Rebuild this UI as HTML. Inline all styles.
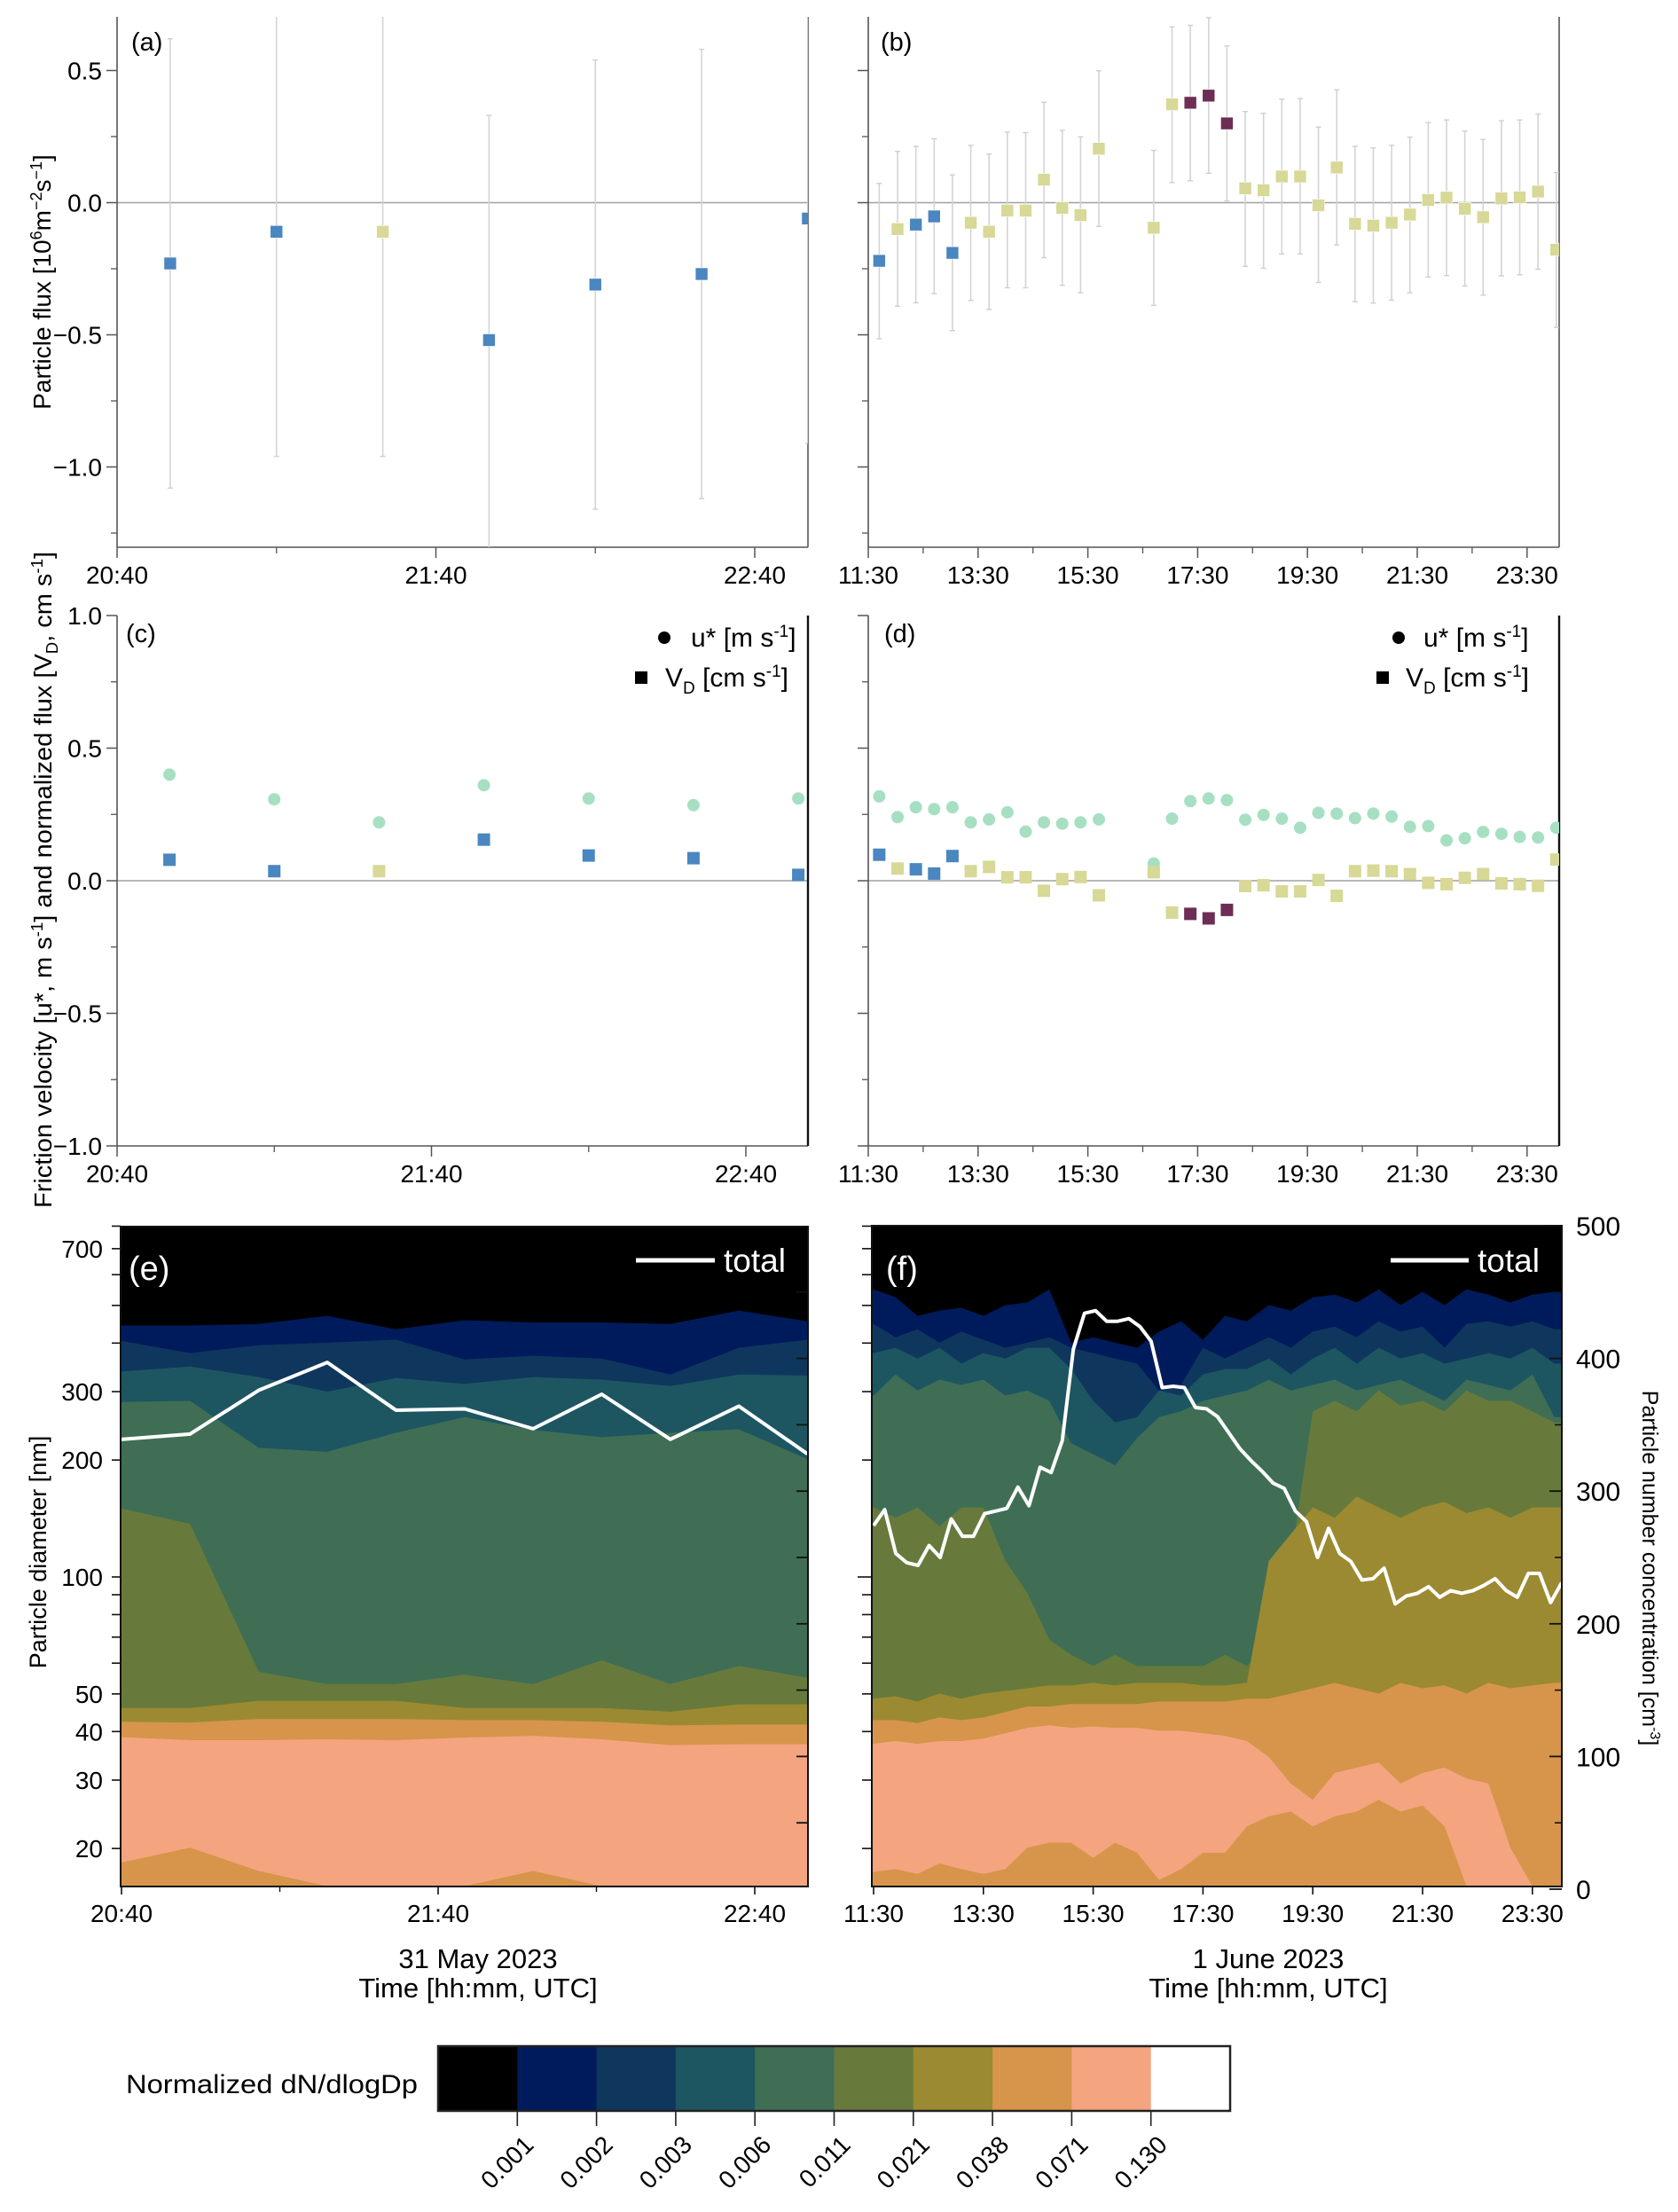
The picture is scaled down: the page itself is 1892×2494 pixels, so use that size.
<!DOCTYPE html>
<html><head><meta charset="utf-8"><title>Particle flux figure</title>
<style>
html,body{margin:0;padding:0;background:#fff;}
svg{display:block;font-family:"Liberation Sans",Arial,sans-serif;}
</style></head>
<body>
<svg id="fig" xmlns="http://www.w3.org/2000/svg" width="1892" height="2494" viewBox="0 0 1892 2494">
<rect x="0" y="0" width="1892" height="2494" fill="#fff"/>
<defs>
<clipPath id="clipA"><rect x="132" y="19" width="779" height="598"/></clipPath>
<clipPath id="clipB"><rect x="979" y="19" width="779" height="598"/></clipPath>
<clipPath id="clipC"><rect x="132" y="694" width="779" height="598"/></clipPath>
<clipPath id="clipD"><rect x="979" y="694" width="779" height="598"/></clipPath>
<clipPath id="clipE"><rect x="136" y="1383" width="775" height="744"/></clipPath>
<clipPath id="clipF"><rect x="983" y="1382" width="778" height="745"/></clipPath>
</defs>
<g id="layer-a"></g>
<g id="layer-b"></g>
<g id="layer-c"></g>
<g id="layer-d"></g>
<g id="layer-e"></g>
<g id="layer-f"></g>
<g id="layer-cb"></g>

<text x="148" y="57" font-size="29">(a)</text>
<text x="993" y="57" font-size="29">(b)</text>
<text x="142" y="724" font-size="29">(c)</text>
<text x="997" y="724" font-size="29">(d)</text>

<text transform="translate(57,318) rotate(-90)" text-anchor="middle" font-size="28">Particle flux [10<tspan dy="-10" font-size="18">6</tspan><tspan dy="10">m</tspan><tspan dy="-10" font-size="18">−2</tspan><tspan dy="10">s</tspan><tspan dy="-10" font-size="18">−1</tspan><tspan dy="10">]</tspan></text>

<text transform="translate(58,992) rotate(-90)" text-anchor="middle" font-size="28" textLength="740" lengthAdjust="spacingAndGlyphs">Friction velocity [u*, m s<tspan dy="-10" font-size="18">-1</tspan><tspan dy="10">] and normalized flux [V</tspan><tspan dy="7" font-size="18">D</tspan><tspan dy="-7">, cm s</tspan><tspan dy="-10" font-size="18">-1</tspan><tspan dy="10">]</tspan></text>

<g>
<circle cx="749" cy="719" r="7" fill="#000"/>
<text x="779" y="729" font-size="30">u* [m s<tspan dy="-11" font-size="19">-1</tspan><tspan dy="11">]</tspan></text>
<rect x="716" y="757" width="14" height="14" fill="#000"/>
<text x="750" y="774" font-size="30">V<tspan dy="8" font-size="19">D</tspan><tspan dy="-8"> [cm s</tspan><tspan dy="-11" font-size="19">-1</tspan><tspan dy="11">]</tspan></text>
</g>
<g>
<circle cx="1577" cy="719" r="7" fill="#000"/>
<text x="1605" y="729" font-size="30">u* [m s<tspan dy="-11" font-size="19">-1</tspan><tspan dy="11">]</tspan></text>
<rect x="1552" y="757" width="14" height="14" fill="#000"/>
<text x="1585" y="774" font-size="30">V<tspan dy="8" font-size="19">D</tspan><tspan dy="-8"> [cm s</tspan><tspan dy="-11" font-size="19">-1</tspan><tspan dy="11">]</tspan></text>
</g>

<text transform="translate(52,1750) rotate(-90)" text-anchor="middle" font-size="27">Particle diameter [nm]</text>
<text transform="translate(1852,1768) rotate(90)" text-anchor="middle" font-size="25">Particle number concentration [cm<tspan dy="-9" font-size="16">-3</tspan><tspan dy="9">]</tspan></text>

<text x="539" y="2219" text-anchor="middle" font-size="31">31 May 2023</text>
<text x="539" y="2252" text-anchor="middle" font-size="31">Time [hh:mm, UTC]</text>
<text x="1430" y="2219" text-anchor="middle" font-size="31">1 June 2023</text>
<text x="1430" y="2252" text-anchor="middle" font-size="31">Time [hh:mm, UTC]</text>

<text x="142" y="2360" font-size="30" textLength="329" lengthAdjust="spacingAndGlyphs">Normalized dN/dlogDp</text>
</svg>

<script>
const aTimes = [10, 30, 50, 70, 90, 110, 130];
const aFlux  = [-0.23, -0.11, -0.11, -0.52, -0.31, -0.27, -0.06];
const aHi    = [0.62, 0.90, 0.90, 0.33, 0.54, 0.58, 0.85];
const aLo    = [-1.08, -0.96, -0.96, -1.37, -1.16, -1.12, -0.91];
const aCls   = ['b','b','y','b','b','b','b'];
const cUstar = [0.40, 0.307, 0.22, 0.36, 0.31, 0.285, 0.31];
const cVd    = [0.079, 0.036, 0.036, 0.155, 0.095, 0.085, 0.022];
const aTickLabels = ['20:40','21:40','22:40'];
const aTickMins = [0, 60, 120];
const fluxTicks = [0.5, 0.0, -0.5, -1.0];
const fluxTickLabels = ['0.5','0.0','−0.5','−1.0'];
const velTicks = [1.0, 0.5, 0.0, -0.5, -1.0];
const velTickLabels = ['1.0','0.5','0.0','−0.5','−1.0'];

const bTimes = [12,32,52,72,92,112,132,152,172,192,212,232,252,
  312,332,352,372,392,412,432,452,472,492,512,532,552,572,592,612,632,652,672,692,712,732,752];
const bFlux = [-0.22,-0.10,-0.083,-0.052,-0.19,-0.076,-0.11,-0.03,-0.03,0.087,-0.02,-0.047,0.204,
  -0.095,0.372,0.378,0.405,0.30,0.054,0.047,0.099,0.099,-0.01,0.133,-0.08,-0.087,-0.076,-0.045,0.01,0.019,-0.023,-0.055,0.016,0.02,0.042,-0.178];
const bHi = [0.073,0.194,0.213,0.242,0.105,0.217,0.184,0.267,0.265,0.380,0.274,0.249,0.499,
  0.198,0.665,0.671,0.700,0.593,0.345,0.338,0.392,0.394,0.286,0.427,0.213,0.207,0.217,0.248,0.303,0.313,0.271,0.239,0.310,0.313,0.335,0.114];
const bLo = [-0.515,-0.392,-0.379,-0.344,-0.484,-0.370,-0.404,-0.322,-0.322,-0.208,-0.313,-0.341,-0.090,
  -0.389,0.076,0.083,0.111,0.007,-0.241,-0.248,-0.194,-0.194,-0.302,-0.160,-0.375,-0.380,-0.369,-0.341,-0.281,-0.276,-0.315,-0.350,-0.277,-0.273,-0.252,-0.472];
const bCls = ['b','y','b','b','b','y','y','y','y','y','y','y','y','y','y','p','p','p',
  'y','y','y','y','y','y','y','y','y','y','y','y','y','y','y','y','y','y'];
const dUstar = [0.318,0.24,0.277,0.27,0.277,0.22,0.231,0.258,0.185,0.22,0.215,0.22,0.231,
  0.065,0.234,0.30,0.31,0.304,0.23,0.248,0.234,0.20,0.256,0.253,0.236,0.253,0.242,0.203,0.206,0.152,0.16,0.184,0.177,0.165,0.163,0.2];
const dVd = [0.098,0.046,0.043,0.027,0.093,0.036,0.052,0.013,0.013,-0.038,0.006,0.014,-0.055,
  0.032,-0.12,-0.125,-0.142,-0.11,-0.02,-0.017,-0.04,-0.04,0.003,-0.057,0.036,0.038,0.036,0.025,-0.008,-0.013,0.011,0.025,-0.01,-0.013,-0.019,0.08];
const bTickLabels = ['11:30','13:30','15:30','17:30','19:30','21:30','23:30'];
const bTickMins = [0,120,240,360,480,600,720];

const eTimes = [0,13,26,39,52,65,78,91,104,117,130];
const eTotal = [339,343,376,397,361,362,347,373,339,364,328];
const eB001 = [444,444,448,470,434,458,452,452,448,485,455];
const eB002 = [405,377,395,401,408,363,371,365,332,389,408];
const eB003 = [338,348,327,300,325,314,327,322,310,332,330];
const eB006 = [282,284,215,210,235,258,239,229,235,240,201];
const eB011 = [150,137,57,53,53,56,53,61,53,59,55];
const eB021 = [46,46,48,48,48,46,46,46,45,47,47];
const eB038 = [42.4,42.2,43.1,43.1,43.1,42.8,42.8,42.4,41.5,41.7,41.7];
const eB071 = [38.7,38,38,38.2,38,38.6,39,38.2,36.9,37.1,37.1];
const eBLow = [18.4,20.1,17.5,16,16,16,17.5,16,16,16,16];
const eDiamTickLabels = ['700','300','200','100','50','40','30','20'];
const eDiamTicks = [700,300,200,100,50,40,30,20];

const fTimes = [0,24,48,72,96,120,144,168,192,216,240,264,288,312,336,360,384,408,432,456,480,504,528,552,576,600,624,648,672,696,720,744];
const fB001 = [550,525,470,485,493,470,501,509,550,401,414,401,389,428,455,408,470,455,501,485,525,533,509,550,501,542,501,550,533,509,533,542];
const fB002 = [448,414,434,401,428,408,389,401,414,389,377,365,354,302,312,389,365,389,414,389,428,441,414,455,428,441,389,448,455,441,455,434];
const fB003 = [377,389,365,389,354,377,365,389,389,343,284,250,258,302,293,332,343,343,365,332,365,389,354,389,365,377,354,365,377,365,389,354];
const fB006 = [293,332,302,322,312,322,293,302,284,221,207,194,228,258,267,284,293,302,322,302,312,322,302,312,322,302,284,322,312,302,332,258];
const fB011 = [151,142,151,135,151,151,110,91,69,63,59,63,59,59,59,59,63,59,67,110,267,284,267,302,276,284,267,302,284,284,267,250];
const fB021 = [48.6,49.3,47.8,50.1,48.6,50.1,50.9,51.7,52.6,52.6,53.4,52.6,53.4,53.4,53.4,52.6,52.6,53.4,110,129,151,142,161,151,142,151,156,146,151,142,151,151];
const fB038 = [42.8,42.8,42.1,43.5,42.8,43.5,44.9,46.4,46.4,47.1,47.1,47.1,47.1,47.8,47.8,47.8,47.8,48.6,48.6,50.1,51.7,53.4,51.7,50.1,53.4,51.7,52.6,50.1,53.4,51.7,52.6,53.4];
const fB071 = [37.2,37.8,37.2,37.8,37.8,38.4,39.6,40.9,41.5,40.9,41.2,40.9,40.9,40.2,40.2,39.6,39.0,37.8,34.4,29.4,26.7,31.3,32.3,33.3,29.4,31.3,32.3,30.3,29.4,20.1,16,16];
const fBLow = [17.4,17.7,17.2,18.3,17.7,17.2,17.7,20.1,20.7,20.7,18.9,20.7,19.5,16.6,17.7,19.5,19.5,22.8,24.2,24.9,22.8,24.2,24.9,26.7,24.9,25.8,22.8,16,16,16,16,16];
const fLineStep = 12.13;
const fTotal = [274,286,253,246,244,259,250,279,266,266,283,285,287,303,289,318,314,338,407,434,
  436,428,428,430,424,413,378,379,378,363,362,356,344,332,323,315,306,302,285,277,
  250,272,253,247,233,234,242,215,221,223,228,220,225,223,225,229,234,225,220,238,238,216,231];
const concTicks = [0,100,200,300,400,500];
const concTickLabels = ['0','100','200','300','400','500'];

const cbLevels = ['0.001','0.002','0.003','0.006','0.011','0.021','0.038','0.071','0.130'];

const COL = {b:'#4a86bf', y:'#d8d897', p:'#6e2d55'};
const MINT = '#a7dfc3';
const bandCols = ['#001b5b','#0f375d','#1d5661','#3f6e55','#677a3c','#9b8a31','#d6954a','#f5a480','#d6954a'];
const cbCols = ['#000000','#001b5b','#0f375d','#1d5661','#3f6e55','#677a3c','#9b8a31','#d6954a','#f5a480','#ffffff'];

const xA = m => 132 + m * 359.5 / 60;
const xC = m => 132 + m * 354.5 / 60;
const xB = m => 979 + m * 61.9 / 60;
const yA = v => 228.5 - v * 298;
const yC = v => 993 - v * 299;
const xE = m => 137 + m * 357 / 60;
const xF = m => 985 + m * 61.9 / 60;
const yLog = d => 1778 - Math.log10(d / 100) * 438;
const yConc = c => 2130 - c * 1.496;

const NS = 'http://www.w3.org/2000/svg';
function mk(tag, parent) { const e = document.createElementNS(NS, tag); parent.appendChild(e); return e; }
function at(e, o) { for (const k in o) e.setAttribute(k, o[k]); return e; }
function line(parent, x1, y1, x2, y2, stroke, w) {
  return at(mk('line', parent), {x1:x1, y1:y1, x2:x2, y2:y2, stroke:stroke, 'stroke-width':w});
}
function label(parent, x, y, str, size, anchor) {
  const t = at(mk('text', parent), {x:x, y:y, 'font-size':size, 'text-anchor':anchor});
  t.textContent = str;
  return t;
}

function scatterAxes(g, left, right, top, bottom, yScale, yt, ytl, minorY, xScale, xtMins, xtl, minorX, rightCol, rightW) {
  const ax = line(g, left, top, left, bottom, '#555', 1.6);
  
  
  const bx = line(g, left, bottom, right, bottom, '#555', 1.6);
  
  
  const rx = line(g, right, top, right, bottom, rightCol, rightW);
  
  
  yt.forEach((v, i) => {
    const tk = line(g, left - 12, yScale(v), left, yScale(v), '#555', 1.5);
    
    
    const tl = label(g, left - 17, yScale(v) + 10, ytl[i], 28, 'end');
    
    
  });
  minorY.forEach(v => {
    const tk = line(g, left - 7, yScale(v), left, yScale(v), '#555', 1.3);
    
    
  });
  xtMins.forEach((m, i) => {
    const tk = line(g, xScale(m), bottom, xScale(m), bottom + 12, '#555', 1.5);
    
    
    const tl = label(g, xScale(m), bottom + 41, xtl[i], 28, 'middle');
    
    
  });
  minorX.forEach(m => {
    const tk = line(g, xScale(m), bottom, xScale(m), bottom + 7, '#555', 1.3);
    
    
  });
}

function zeroLine(g, left, right, y) {
  const z = line(g, left, y, right, y, '#a0a0a0', 1.6);
  
  
}

function fluxMarks(g, clip, times, vals, his, los, cls, xS, yS) {
  const cg = mk('g', g);
  cg.setAttribute('clip-path', 'url(#' + clip + ')');
  
  
  times.forEach((t, i) => {
    const x = xS(t);
    const eb = line(cg, x, yS(his[i]), x, yS(los[i]), '#d4d4d4', 1.6);
    
    
    const c1 = line(cg, x - 3, yS(his[i]), x + 3, yS(his[i]), '#cfcfcf', 1.4);
    
    
    const c2 = line(cg, x - 3, yS(los[i]), x + 3, yS(los[i]), '#cfcfcf', 1.4);
    
    
  });
  times.forEach((t, i) => {
    const s = at(mk('rect', cg), {x: xS(t) - 7, y: yS(vals[i]) - 7, width: 14, height: 14, fill: COL[cls[i]], stroke: '#fff', 'stroke-width': 0.6});
    
    
  });
}

function velMarks(g, clip, times, ustar, vd, cls, xS, yS) {
  const cg = mk('g', g);
  cg.setAttribute('clip-path', 'url(#' + clip + ')');
  
  
  times.forEach((t, i) => {
    const c = at(mk('ellipse', cg), {cx: xS(t), cy: yS(ustar[i]), rx: 7, ry: 7, fill: MINT});
    
    
  });
  times.forEach((t, i) => {
    const s = at(mk('rect', cg), {x: xS(t) - 7, y: yS(vd[i]) - 7, width: 14, height: 14, fill: COL[cls[i]]});
    
    
  });
}

const gA = document.getElementById('layer-a');
zeroLine(gA, 132, 911, yA(0));
scatterAxes(gA, 132, 911, 19, 617, yA, fluxTicks, fluxTickLabels, [0.25,-0.25,-0.75,-1.25], xA, aTickMins, aTickLabels, [30,90], '#555', 1.6);
fluxMarks(gA, 'clipA', aTimes, aFlux, aHi, aLo, aCls, xA, yA);

const gB = document.getElementById('layer-b');
zeroLine(gB, 979, 1758, yA(0));
scatterAxes(gB, 979, 1758, 19, 617, yA, fluxTicks, ['','','',''], [0.25,-0.25,-0.75,-1.25], xB, bTickMins, bTickLabels, [60,180,300,420,540,660], '#555', 1.6);
fluxMarks(gB, 'clipB', bTimes, bFlux, bHi, bLo, bCls, xB, yA);

const gC = document.getElementById('layer-c');
zeroLine(gC, 132, 911, yC(0));
scatterAxes(gC, 132, 911, 694, 1292, yC, velTicks, velTickLabels, [0.75,0.25,-0.25,-0.75], xC, aTickMins, aTickLabels, [30,90], '#111', 2.4);
velMarks(gC, 'clipC', aTimes, cUstar, cVd, aCls, xC, yC);

const gD = document.getElementById('layer-d');
zeroLine(gD, 979, 1758, yC(0));
scatterAxes(gD, 979, 1758, 694, 1292, yC, velTicks, ['','','','',''], [0.75,0.25,-0.25,-0.75], xB, bTickMins, bTickLabels, [60,180,300,420,540,660], '#111', 2.4);
velMarks(gD, 'clipD', bTimes, dUstar, dVd, bCls, xB, yC);

function bandPath(times, bound, xS, left, right, bottom) {
  let d = 'M' + left + ',' + yLog(bound[0]);
  times.forEach((t, i) => { d += ' L' + xS(t) + ',' + yLog(bound[i]); });
  d += ' L' + right + ',' + yLog(bound[bound.length - 1]) + ' L' + right + ',' + bottom + ' L' + left + ',' + bottom + ' Z';
  return d;
}

function contourPanel(g, clip, left, right, top, bottom, times, bounds, xS) {
  const cg = mk('g', g);
  cg.setAttribute('clip-path', 'url(#' + clip + ')');
  
  
  const bg = at(mk('rect', cg), {x: left, y: top, width: right - left, height: bottom - top, fill: '#000'});
  
  
  bounds.forEach((b, k) => {
    const p = at(mk('path', cg), {d: bandPath(times, b, xS, left, right, bottom), fill: bandCols[k]});
    
    
  });
  return cg;
}

function totalLine(cg, times, vals, xS) {
  const pts = times.map((t, i) => xS(t) + ',' + yConc(vals[i])).join(' ');
  const pl = at(mk('polyline', cg), {points: pts, fill: 'none', stroke: '#fff', 'stroke-width': 4, 'stroke-linejoin': 'round'});
  
  
}

const logTicks = [20,30,40,50,60,70,80,90,100,200,300,400,500,600,700,800];

const gE = document.getElementById('layer-e');
const cgE = contourPanel(gE, 'clipE', 136, 911, 1383, 2127, eTimes,
  [eB001, eB002, eB003, eB006, eB011, eB021, eB038, eB071, eBLow], xE);
totalLine(cgE, eTimes, eTotal, xE);
{
  const fr = at(mk('rect', gE), {x: 136, y: 1383, width: 775, height: 744, fill: 'none', stroke: '#111', 'stroke-width': 2});
  
  
  logTicks.forEach(v => {
    const tk = line(gE, 136 - 10, yLog(v), 136, yLog(v), '#111', 1.6);
    
    
  });
  eDiamTicks.forEach((v, i) => {
    const tl = label(gE, 116, yLog(v) + 10, eDiamTickLabels[i], 28, 'end');
    
    
  });
  [50,100,150,200,250,300,350,400,450].forEach(c => {
    const tk = line(gE, 911 - 13, yConc(c), 911, yConc(c), '#111', 1.8);
    
    
  });
  aTickMins.forEach((m, i) => {
    const tk = line(gE, xE(m), 2127, xE(m), 2136, '#111', 1.6);
    
    
    const tl = label(gE, xE(m), 2167, aTickLabels[i], 28, 'middle');
    
    
  });
  [30, 90].forEach(m => {
    const tk = line(gE, xE(m), 2127, xE(m), 2133, '#111', 1.4);
    
    
  });
  const lg = line(gE, 717, 1421, 806, 1421, '#fff', 5);
  
  
  const lt = label(gE, 816, 1434, 'total', 37, 'start');
  lt.setAttribute('fill', '#fff');
  
  
  const pl = label(gE, 145, 1443, '(e)', 38, 'start');
  pl.setAttribute('fill', '#fff');
  
  
}

const gF = document.getElementById('layer-f');
const cgF = contourPanel(gF, 'clipF', 983, 1761, 1382, 2127, fTimes,
  [fB001, fB002, fB003, fB006, fB011, fB021, fB038, fB071, fBLow], xF);
totalLine(cgF, fTotal.map((v, i) => i * fLineStep), fTotal, xF);
{
  const fr = at(mk('rect', gF), {x: 983, y: 1382, width: 778, height: 745, fill: 'none', stroke: '#111', 'stroke-width': 2});
  
  
  logTicks.forEach(v => {
    const tk = line(gF, 983 - (v === 100 ? 16 : 11), yLog(v), 983, yLog(v), '#111', 1.6);
    
    
  });
  concTicks.forEach((c, i) => {
    const tk = line(gF, 1761 - 14, yConc(c), 1761, yConc(c), '#111', 1.8);
    
    
    const tl = label(gF, 1777, yConc(c) + 11, concTickLabels[i], 30, 'start');
    
    
  });
  [50,150,250,350,450].forEach(c => {
    const tk = line(gF, 1761 - 8, yConc(c), 1761, yConc(c), '#111', 1.6);
    
    
  });
  bTickMins.forEach((m, i) => {
    const tk = line(gF, xF(m), 2127, xF(m), 2136, '#111', 1.6);
    
    
    const tl = label(gF, xF(m), 2167, bTickLabels[i], 28, 'middle');
    
    
  });
  const lg = line(gF, 1568, 1421, 1656, 1421, '#fff', 5);
  
  
  const lt = label(gF, 1666, 1434, 'total', 37, 'start');
  lt.setAttribute('fill', '#fff');
  
  
  const pl = label(gF, 999, 1443, '(f)', 38, 'start');
  pl.setAttribute('fill', '#fff');
  
  
}

const gCB = document.getElementById('layer-cb');
const cbLeft = 494, cbW = 89.3, cbTop = 2307, cbH = 73;
cbCols.forEach((c, i) => {
  const r = at(mk('rect', gCB), {x: cbLeft + i * cbW, y: cbTop, width: cbW + 0.5, height: cbH, fill: c});
  
  
});
{
  const fr = at(mk('rect', gCB), {x: cbLeft, y: cbTop, width: cbW * 10, height: cbH, fill: 'none', stroke: '#222', 'stroke-width': 2.5});
  
  
}
cbLevels.forEach((lv, i) => {
  const x = cbLeft + (i + 1) * cbW;
  const tk = line(gCB, x, cbTop + cbH, x, cbTop + cbH + 17, '#222', 1.6);
  
  
  const t = at(mk('text', gCB), {x: 0, y: 0, 'font-size': 28, 'text-anchor': 'end', transform: 'translate(' + (x + 20) + ',' + 2420 + ') rotate(-45)'});
  t.textContent = lv;
  
  
});
</script>
</body></html>
